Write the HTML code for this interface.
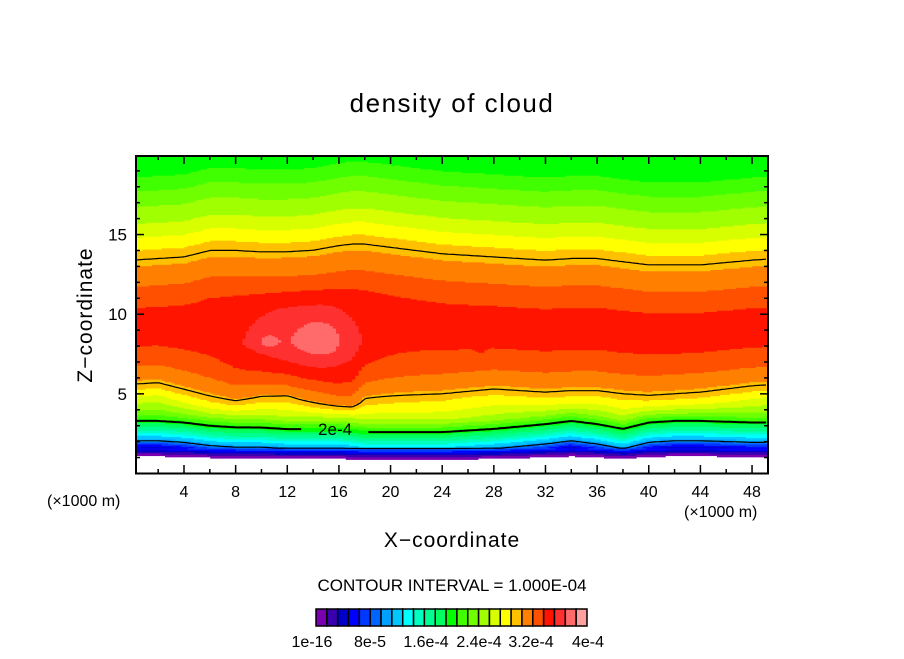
<!DOCTYPE html>
<html><head><meta charset="utf-8"><style>
body{margin:0;background:#fff;width:904px;height:654px;overflow:hidden}
svg text{font-family:"Liberation Sans",sans-serif;fill:#000}
</style></head><body>
<svg id="chart" width="904" height="654" xmlns="http://www.w3.org/2000/svg">
<text x="452" y="112" text-anchor="middle" font-size="26" letter-spacing="1.5">density of cloud</text>
<g id="field"></g>
<g id="lines"></g>
<g id="axes"></g>
<text transform="translate(92,315) rotate(-90)" text-anchor="middle" font-size="21" letter-spacing="1">Z−coordinate</text>
<text x="452" y="547" text-anchor="middle" font-size="21" letter-spacing="1">X−coordinate</text>
<text x="47" y="506" font-size="16">(×1000 m)</text>
<text x="684" y="517" font-size="16">(×1000 m)</text>
<text x="452" y="591" text-anchor="middle" font-size="17">CONTOUR INTERVAL = 1.000E-04</text>
<g id="cbar"></g>
</svg>
<script>
// ---- data ----
const zProf = [0.0,0.95,1.0,1.2,1.45,1.75,2.15,2.5,3.0,3.6,4.2,4.9,5.5,6.5,8.0,10.0,11.5,12.5,13.5,14.5,15.5,16.5,17.5,18.5,20.0];
const vProf = [-1,-1,0.02,0.2,0.55,1.0,1.35,1.65,2.0,2.45,2.75,3.0,3.1,3.25,3.4,3.4,3.25,3.1,3.0,2.8,2.6,2.45,2.3,2.1,1.95];
const xKnots = [0,2,4,6,8,10,12,14,16,17,18,20,24,28,32,34,36,38,40,42,44,48,50];
const bottomShift = [0.3,0.3,0.2,0.0,-0.1,-0.1,-0.2,-0.2,-0.2,-0.3,-0.4,-0.4,-0.4,-0.2,0.1,0.3,0.1,-0.2,0.2,0.3,0.3,0.2,0.2];
const midShift = [0.7,0.8,0.4,0.0,-0.3,0.1,0.2,-0.3,-0.9,-1.0,-0.1,0.0,0.1,0.4,0.2,0.3,0.3,0.1,0.0,0.1,0.2,0.6,0.7];
const topShift = [-0.1,0.0,0.1,0.5,0.5,0.4,0.4,0.5,0.8,0.9,0.9,0.7,0.3,0.1,-0.1,0.0,0.0,-0.2,-0.4,-0.4,-0.4,-0.1,0.0];
const bumpX = [13, 14.8, 10.5, 27];
const bumpZ = [8.0, 8.6, 8.3, 8.7];
const bumpAmp = [0.26, 0.15, 0.15, 0.1];
const bumpSx = [5.0, 2.0, 0.8, 0.4];
const bumpSz = [2.9, 1.5, 0.5, 1.0];
const levels = [1, 2, 3];
const cbLabels = ["1e-16","8e-5","1.6e-4","2.4e-4","3.2e-4","4e-4"];
const colors = ["#7a00b0","#3a00b0","#0000c8","#0000ff","#0038ff","#0064ff","#00a0ff","#00c8ff","#00ffff","#00ffc0","#00ff90","#00ff60","#00ff00","#40ff00","#70ff00","#a0ff00","#d8ff00","#ffff00","#ffc000","#ff8000","#ff5000","#ff1400","#ff3030","#ff6a6a","#ffa0a0"];
// ---- scales ----
const X = x => 184 + (x - 4) * 12.91;
const Y = z => 473.5 - 15.93 * z;
const x0 = 0.28, x1 = 49.23, zTop = 19.9;
function interp(xs, ys, x){ if(x<=xs[0])return ys[0]; for(let i=1;i<xs.length;i++){ if(x<=xs[i]){const t=(x-xs[i-1])/(xs[i]-xs[i-1]);return ys[i-1]+t*(ys[i]-ys[i-1]);}} return ys[ys.length-1]; }
function field(x,z){
  const b=interp(xKnots,bottomShift,x), m=interp(xKnots,midShift,x), t=interp(xKnots,topShift,x);
  let s; if(z<3.5)s=b; else if(z<4.8)s=b+(m-b)*(z-3.5)/1.3; else if(z<6)s=m; else if(z<11)s=m+(t-m)*(z-6)/5; else s=t;
  if(z<1.6) s*=0.3;
  let v = interp(zProf,vProf,z - s);
  for(let i=0;i<bumpX.length;i++){ const dx=(x-bumpX[i])/bumpSx[i], dz=(z-bumpZ[i])/bumpSz[i]; v += bumpAmp[i]*Math.exp(-dx*dx-dz*dz); }
  return v;
}
const NS="http://www.w3.org/2000/svg";
function mk(tag, attrs, parent){ const e=document.createElementNS(NS,tag); for(const k in attrs)e.setAttribute(k,attrs[k]); parent.appendChild(e); return e; }
// ---- field ----
const fg=document.getElementById('field');
const dx=0.25, dz=0.08;
for(let x=x0; x<x1; x+=dx){
  const xe=Math.min(x+dx,x1);
  let runStart=0, runIdx=null;
  const nz=Math.ceil(zTop/dz);
  for(let k=0;k<=nz;k++){
    let idx=null;
    if(k<nz){ const v=field(x+dx/2,(k+0.5)*dz); idx = v<0?-1:Math.min(24,Math.floor(v/0.16)); }
    if(k===nz || idx!==runIdx){
      if(runIdx!==null && runIdx>=0){
        const za=runStart*dz, zb=Math.min(k*dz,zTop);
        const r=mk('rect',{x:X(x).toFixed(2),y:Y(zb).toFixed(2),width:(X(xe)-X(x)+0.4).toFixed(2),height:(Y(za)-Y(zb)+0.4).toFixed(2),fill:colors[runIdx]},fg);
        
        
      }
      runIdx=idx; runStart=k;
    }
  }
}
// ---- contour lines ----
const lg=document.getElementById('lines');
const gapA=X(13.2), gapB=X(18.2);
levels.forEach(L=>{
  const lower=[], upper=[];
  for(let x=x0;x<=x1+1e-6;x+=0.2){
    let prev=field(x,0.9), found=false;
    for(let z=1.0;z<=zTop;z+=0.05){
      const v=field(x,z);
      if(!found && prev<L && v>=L){ lower.push([X(x),Y(z-0.05+0.05*(L-prev)/(v-prev))]); found=true; }
      if(found && L===3 && z>9 && prev>=L && v<L){ upper.push([X(x),Y(z-0.05+0.05*(prev-L)/(prev-v))]); break; }
      prev=v;
    }
  }
  let segs=[lower,upper];
  if(L===2){ segs=[lower.filter(p=>p[0]<gapA), lower.filter(p=>p[0]>gapB)]; }
  segs.forEach(pts=>{ if(pts.length<2)return;
    const p=mk('polyline',{points:pts.map(q=>q[0].toFixed(1)+','+q[1].toFixed(1)).join(' '),fill:'none',stroke:'#000','stroke-width':L===2?2:1.2},lg);
    
    
  });
});
const lbl=mk('text',{x:(gapA+gapB)/2,y:Y(2.8)+6,'font-size':17,'text-anchor':'middle'},lg);
lbl.textContent='2e-4';


// ---- axes ----
const ag=document.getElementById('axes');
const fr=mk('rect',{x:136,y:156,width:632,height:317.5,fill:'none',stroke:'#000','stroke-width':2},ag);


for(let x=2;x<=48;x+=2){ const major=x%4===0, len=major?8:4;
  const t1=mk('line',{x1:X(x),x2:X(x),y1:473,y2:473-len,stroke:'#000','stroke-width':1.5},ag);
   
  const t2=mk('line',{x1:X(x),x2:X(x),y1:156,y2:156+len,stroke:'#000','stroke-width':1.5},ag);
   
  if(major){ const t=mk('text',{x:X(x),y:497,'text-anchor':'middle','font-size':16},ag); t.textContent=x;
      }
}
for(let z=1;z<=19;z++){ const major=z%5===0, len=major?8:4;
  const t1=mk('line',{x1:136,x2:136+len,y1:Y(z),y2:Y(z),stroke:'#000','stroke-width':1.5},ag);
   
  const t2=mk('line',{x1:768,x2:768-len,y1:Y(z),y2:Y(z),stroke:'#000','stroke-width':1.5},ag);
   
  if(major){ const t=mk('text',{x:127,y:Y(z)+6,'text-anchor':'end','font-size':17},ag); t.textContent=z;
      }
}
// ---- colorbar ----
const cg=document.getElementById('cbar');
const cbX=316, cbW=271, cbY=609, cbH=17, bw=cbW/colors.length;
colors.forEach((c,i)=>{ const r=mk('rect',{x:cbX+i*bw,y:cbY,width:bw,height:cbH,fill:c,stroke:'#000','stroke-width':1.5},cg);
    });
const cbPos=[312,370,426,479,531,588];
cbLabels.forEach((s,i)=>{ const t=mk('text',{x:cbPos[i],y:647,'text-anchor':'middle','font-size':16},cg); t.textContent=s;
    });
</script>
</body></html>
